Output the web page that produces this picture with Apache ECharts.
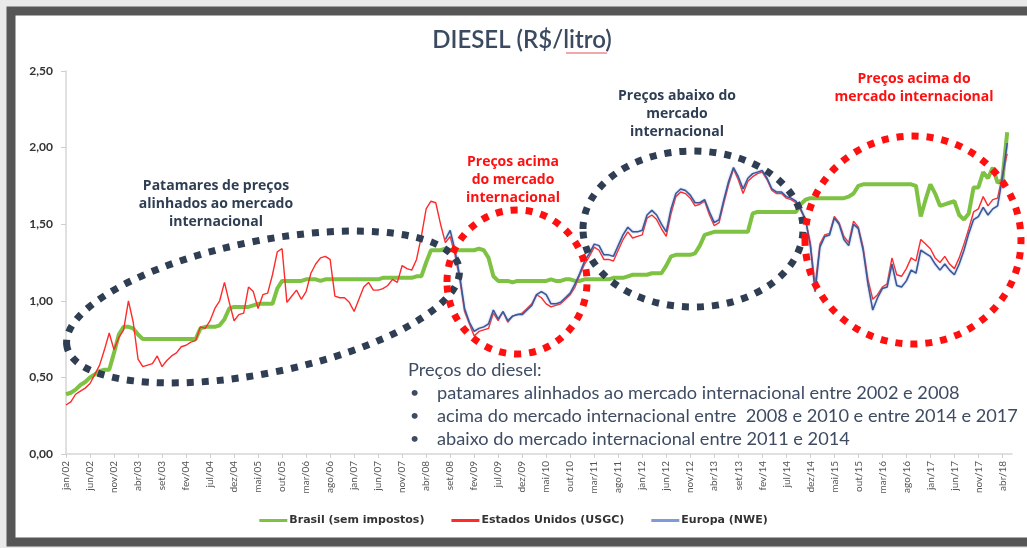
<!DOCTYPE html>
<html>
<head>
<meta charset="utf-8">
<script src="https://cdn.jsdelivr.net/npm/echarts@6/dist/echarts.min.js"></script>
<style>
  html, body { margin: 0; padding: 0; background: #e9e9e9; }
  #chart { width: 1027px; height: 548px; }
</style>
</head>
<body>
<div id="chart"></div>
<script>
// month labels, jan/02 .. jun/18
const monthNames = ['jan', 'fev', 'mar', 'abr', 'mai', 'jun', 'jul', 'ago', 'set', 'out', 'nov', 'dez']
let categories = []
for (let y = 2; y <= 18; y++) {
  monthNames.forEach(m => {
    if (categories.length < 198) categories.push(m + '/' + String(y).padStart(2, '0'))
  })
}

const yTicks = [0, 0.5, 1.0, 1.5, 2.0, 2.5]

// R$/litro, one value per month (12 per row)
const brasil = [
  0.39, 0.40, 0.42, 0.45, 0.47, 0.50, 0.52, 0.54, 0.55, 0.55, 0.66, 0.78,
  0.83, 0.83, 0.82, 0.78, 0.75, 0.75, 0.75, 0.75, 0.75, 0.75, 0.75, 0.75,
  0.75, 0.75, 0.75, 0.75, 0.82, 0.83, 0.83, 0.83, 0.84, 0.88, 0.95, 0.96,
  0.96, 0.96, 0.96, 0.97, 0.98, 0.98, 0.98, 0.98, 1.08, 1.13, 1.13, 1.13,
  1.13, 1.13, 1.14, 1.14, 1.14, 1.13, 1.14, 1.14, 1.14, 1.14, 1.14, 1.14,
  1.14, 1.14, 1.14, 1.14, 1.14, 1.14, 1.15, 1.15, 1.15, 1.15, 1.15, 1.15,
  1.15, 1.16, 1.16, 1.25, 1.33, 1.33, 1.33, 1.34, 1.33, 1.33, 1.33, 1.33,
  1.33, 1.33, 1.34, 1.33, 1.28, 1.16, 1.13, 1.13, 1.13, 1.12, 1.13, 1.13,
  1.13, 1.13, 1.13, 1.13, 1.13, 1.14, 1.13, 1.13, 1.14, 1.14, 1.13, 1.13,
  1.14, 1.14, 1.14, 1.14, 1.14, 1.14, 1.15, 1.15, 1.15, 1.16, 1.17, 1.17,
  1.17, 1.17, 1.18, 1.18, 1.18, 1.23, 1.29, 1.30, 1.30, 1.30, 1.30, 1.31,
  1.36, 1.43, 1.44, 1.45, 1.45, 1.45, 1.45, 1.45, 1.45, 1.45, 1.45, 1.57,
  1.58, 1.58, 1.58, 1.58, 1.58, 1.58, 1.58, 1.58, 1.58, 1.63, 1.66, 1.67,
  1.67, 1.67, 1.67, 1.67, 1.67, 1.67, 1.67, 1.68, 1.70, 1.75, 1.76, 1.76,
  1.76, 1.76, 1.76, 1.76, 1.76, 1.76, 1.76, 1.76, 1.76, 1.75, 1.55, 1.66,
  1.76, 1.70, 1.62, 1.63, 1.64, 1.65, 1.56, 1.53, 1.57, 1.74, 1.74, 1.84,
  1.80, 1.87, 1.77, 1.79, 2.10
]

const usgc = [
  0.32, 0.34, 0.39, 0.41, 0.43, 0.46, 0.52, 0.58, 0.68, 0.79, 0.68, 0.76,
  0.81, 1.00, 0.86, 0.62, 0.57, 0.58, 0.59, 0.64, 0.57, 0.61, 0.64, 0.66,
  0.70, 0.71, 0.73, 0.74, 0.83, 0.82, 0.87, 0.95, 1.00, 1.12, 0.99, 0.87,
  0.91, 0.92, 1.09, 1.06, 0.95, 1.04, 1.05, 1.17, 1.32, 1.34, 0.99, 1.03,
  1.07, 1.01, 1.06, 1.18, 1.24, 1.28, 1.29, 1.27, 1.03, 1.02, 1.02, 0.99,
  0.93, 1.01, 1.09, 1.12, 1.07, 1.07, 1.08, 1.10, 1.14, 1.12, 1.23, 1.21,
  1.20, 1.27, 1.42, 1.60, 1.65, 1.64, 1.50, 1.38, 1.42, 1.30, 1.14, 0.93,
  0.85, 0.77, 0.80, 0.81, 0.82, 0.92, 0.87, 0.93, 0.86, 0.90, 0.91, 0.92,
  0.95, 0.98, 1.04, 1.02, 0.98, 0.96, 0.97, 0.98, 1.01, 1.04, 1.09, 1.17,
  1.24, 1.29, 1.35, 1.33, 1.27, 1.27, 1.26, 1.33, 1.40, 1.45, 1.41, 1.42,
  1.43, 1.54, 1.56, 1.53, 1.47, 1.42, 1.57, 1.68, 1.71, 1.70, 1.67, 1.62,
  1.63, 1.65, 1.56, 1.49, 1.51, 1.64, 1.76, 1.86, 1.79, 1.70, 1.78, 1.81,
  1.83, 1.84, 1.79, 1.72, 1.70, 1.70, 1.67, 1.66, 1.64, 1.59, 1.53, 1.38,
  1.10, 1.37, 1.43, 1.44, 1.55, 1.51, 1.42, 1.38, 1.52, 1.48, 1.35, 1.14,
  1.01, 1.04, 1.09, 1.11, 1.28, 1.17, 1.16, 1.21, 1.28, 1.26, 1.40, 1.37,
  1.34, 1.28, 1.25, 1.29, 1.24, 1.21, 1.28, 1.37, 1.47, 1.58, 1.60, 1.68,
  1.62, 1.66, 1.67, 1.82, 1.96
]

const nwe = [
  null, null, null, null, null, null, null, null, null, null, null, null,
  null, null, null, null, null, null, null, null, null, null, null, null,
  null, null, null, null, null, null, null, null, null, null, null, null,
  null, null, null, null, null, null, null, null, null, null, null, null,
  null, null, null, null, null, null, null, null, null, null, null, null,
  null, null, null, null, null, null, null, null, null, null, null, null,
  null, null, null, null, null, null, null, 1.40, 1.46, 1.33, 1.16, 0.95,
  0.86, 0.80, 0.82, 0.83, 0.85, 0.94, 0.88, 0.93, 0.87, 0.90, 0.91, 0.91,
  0.94, 0.97, 1.04, 1.06, 1.04, 0.98, 0.98, 0.99, 1.02, 1.05, 1.11, 1.18,
  1.26, 1.31, 1.37, 1.36, 1.30, 1.30, 1.29, 1.36, 1.43, 1.48, 1.45, 1.45,
  1.46, 1.56, 1.59, 1.56, 1.50, 1.45, 1.60, 1.70, 1.73, 1.72, 1.69, 1.64,
  1.64, 1.66, 1.58, 1.51, 1.53, 1.66, 1.78, 1.87, 1.81, 1.73, 1.80, 1.83,
  1.84, 1.85, 1.80, 1.73, 1.71, 1.71, 1.68, 1.67, 1.65, 1.60, 1.53, 1.36,
  1.06, 1.35, 1.42, 1.43, 1.54, 1.50, 1.40, 1.36, 1.50, 1.47, 1.33, 1.11,
  0.94, 1.02, 1.08, 1.09, 1.24, 1.10, 1.09, 1.13, 1.20, 1.18, 1.33, 1.31,
  1.29, 1.24, 1.20, 1.24, 1.20, 1.17, 1.24, 1.33, 1.44, 1.53, 1.55, 1.61,
  1.56, 1.60, 1.62, 1.80, 2.03
]

const seriesNames = ['Brasil (sem impostos)', 'Estados Unidos (USGC)', 'Europa (NWE)']

const notes = [
  'Preços do diesel:',
  'patamares alinhados ao mercado internacional entre 2002 e 2008',
  'acima do mercado internacional entre  2008 e 2010 e entre 2014 e 2017',
  'abaixo do mercado internacional entre 2011 e 2014'
]

const navy = '#2f3e53'
const red = '#ff1010'
const noteColor = '#3e4c63'

function dotted (x, y, rx, ry, rot, color) {
  return {
    type: 'ellipse', x: x, y: y, rotation: rot, z: 50,
    shape: { cx: 0, cy: 0, rx: rx, ry: ry },
    style: { fill: 'none', stroke: color, lineWidth: 7, lineDash: [7, 8] }
  }
}

function label (x, y, text, color) {
  return {
    type: 'text', x: x, y: y, z: 60,
    style: {
      text: text, fill: color, font: 'bold 14px "Open Sans"',
      align: 'center', verticalAlign: 'top', lineHeight: 18
    }
  }
}

let graphics = [
  // framed white panel
  {
    type: 'rect', z: -10, silent: true,
    shape: { x: 11, y: 11, width: 1040, height: 531 },
    style: { fill: '#ffffff', stroke: '#565656', lineWidth: 9 }
  },
  // title
  {
    type: 'text', x: 522, y: 40, z: 60,
    style: { text: 'DIESEL (R$/litro)', fill: '#3b4a60', font: '600 24px Lato', align: 'center', verticalAlign: 'middle' }
  },
  // spell-check underline under "litro"
  {
    type: 'line', z: 60,
    shape: { x1: 566, y1: 53, x2: 607, y2: 53 },
    style: { stroke: '#e05050', lineWidth: 1 }
  },
  dotted(263, 307, 200, 66, 0.2, navy),
  dotted(517, 282, 70, 72, 0, red),
  dotted(693, 229, 110, 78, 0, navy),
  dotted(913, 240, 108, 104, 0, red),
  label(216, 177, 'Patamares de preços\nalinhados ao mercado\ninternacional', navy),
  label(513, 153, 'Preços acima\ndo mercado\ninternacional', red),
  label(677, 87, 'Preços abaixo do\nmercado\ninternacional', navy),
  label(914, 70, 'Preços acima do\nmercado internacional', red)
]

notes.forEach((t, i) => {
  let y = 361 + i * 23
  if (i > 0) {
    graphics.push({
      type: 'text', x: 410, y: y + 1, z: 60,
      style: { text: '•', fill: noteColor, font: '16px Lato', verticalAlign: 'top' }
    })
  }
  graphics.push({
    type: 'text', x: i === 0 ? 408 : 437, y: y, z: 60,
    style: { text: t, fill: noteColor, font: '18.2px Lato', verticalAlign: 'top' }
  })
})

const chart = echarts.init(document.getElementById('chart'))
chart.setOption({
  animation: false,
  backgroundColor: '#e9e9e9',
  grid: { left: 66, right: 15, top: 71, bottom: 94 },
  legend: {
    bottom: 17,
    left: 'center',
    icon: 'rect',
    itemWidth: 28,
    itemHeight: 3,
    itemGap: 27,
    data: seriesNames,
    textStyle: { fontFamily: 'DejaVu Sans', fontSize: 11, fontWeight: 'bold', color: '#333', padding: [0, 0, 0, -3] }
  },
  xAxis: {
    type: 'category',
    data: categories,
    boundaryGap: false,
    axisLine: { lineStyle: { color: '#d6d6d6', width: 1.5 } },
    axisTick: { interval: 4, length: 4, lineStyle: { color: '#cfcfcf' } },
    axisLabel: { interval: 4, rotate: 90, margin: 7, fontFamily: 'Lato', fontSize: 10, color: '#555' },
    splitLine: { show: false }
  },
  yAxis: {
    type: 'value',
    min: yTicks[0],
    max: yTicks[yTicks.length - 1],
    interval: 0.5,
    axisLine: { show: true, lineStyle: { color: '#d6d6d6', width: 1.5 } },
    axisTick: { show: true, length: 5, lineStyle: { color: '#cfcfcf' } },
    splitLine: { show: false },
    axisLabel: {
      margin: 13, fontFamily: 'Lato', fontSize: 12, fontWeight: 'bold', color: '#333',
      formatter: v => v.toFixed(2).replace('.', ',')
    }
  },
  series: [
    {
      name: seriesNames[0], type: 'line', data: brasil, showSymbol: false,
      color: '#7dc242', lineStyle: { width: 4, color: '#7dc242' }, z: 2
    },
    {
      name: seriesNames[1], type: 'line', data: usgc, showSymbol: false,
      color: '#ff2a2a', lineStyle: { width: 1.4, color: '#ff2a2a' }, z: 3
    },
    {
      name: seriesNames[2], type: 'line', data: nwe, showSymbol: false,
      color: '#7d9bd6',
      lineStyle: { width: 1.5, color: '#3a5896', shadowColor: 'rgba(120,150,220,0.8)', shadowBlur: 2 },
      z: 4
    }
  ],
  graphic: graphics
})
</script>
</body>
</html>
